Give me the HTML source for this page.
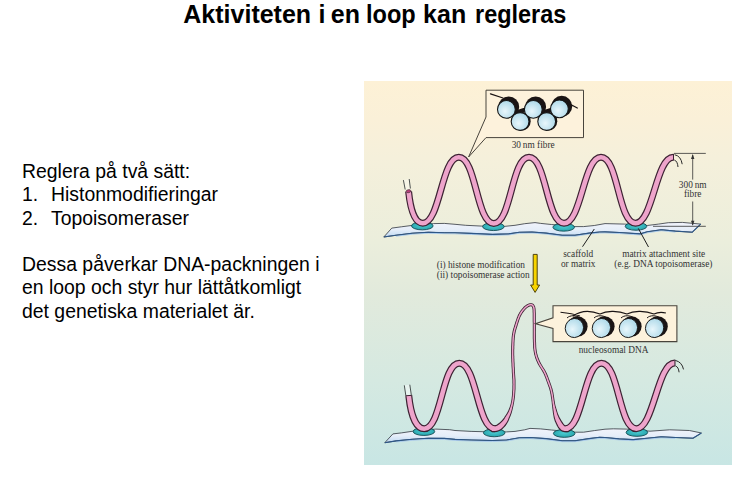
<!DOCTYPE html>
<html><head><meta charset="utf-8">
<style>
html,body{margin:0;padding:0;background:#fff;}
body{width:746px;height:482px;position:relative;overflow:hidden;font-family:"Liberation Sans",sans-serif;color:#000;}
#title{position:absolute;left:0;top:-1px;width:746px;height:32px;font-weight:bold;font-size:25px;line-height:30px;white-space:nowrap;}
#title span{position:absolute;top:0;transform-origin:0 0;}
#txt{position:absolute;left:22px;top:160px;font-size:19.4px;line-height:23.25px;white-space:nowrap;}
#txt .n{display:inline-block;width:29px;}
#fig{position:absolute;left:0;top:0;}
</style></head><body>
<div id="title"><span style="left:183.3px">Aktiviteten</span><span style="left:318.5px">i</span><span style="left:330.8px">en</span><span style="left:366.3px;transform:scaleX(0.942)">loop</span><span style="left:423.1px">kan</span><span style="left:474.6px;transform:scaleX(0.938)">regleras</span></div>
<div id="txt">
<div>Reglera på två sätt:</div>
<div><span class="n">1.</span>Histonmodifieringar</div>
<div><span class="n">2.</span>Topoisomeraser</div>
<div>&nbsp;</div>
<div>Dessa påverkar DNA-packningen i</div>
<div>en loop och styr hur lättåtkomligt</div>
<div>det genetiska materialet är.</div>
</div>
<svg id="fig" width="746" height="482" viewBox="0 0 746 482">
<defs>
<linearGradient id="bg" x1="0" y1="81" x2="0" y2="465" gradientUnits="userSpaceOnUse">
<stop offset="0" stop-color="rgb(253,241,214)"/>
<stop offset="0.1" stop-color="rgb(250,240,216)"/>
<stop offset="0.2" stop-color="rgb(245,240,219)"/>
<stop offset="0.42" stop-color="rgb(235,238,220)"/>
<stop offset="0.55" stop-color="rgb(226,234,220)"/>
<stop offset="0.78" stop-color="rgb(213,233,225)"/>
<stop offset="1" stop-color="rgb(200,230,228)"/>
</linearGradient>
<linearGradient id="scf" x1="0" y1="0" x2="0" y2="1">
<stop offset="0" stop-color="#f1f3fb"/>
<stop offset="0.5" stop-color="#e6eef9"/>
<stop offset="0.8" stop-color="#cfe2f6"/>
<stop offset="1" stop-color="#b8d4ef"/>
</linearGradient>
<radialGradient id="nuc" cx="0.42" cy="0.6" r="0.62">
<stop offset="0" stop-color="#e8f6fb"/>
<stop offset="1" stop-color="#acd8e8"/>
</radialGradient>
<radialGradient id="tl" cx="0.5" cy="0.45" r="0.55">
<stop offset="0" stop-color="#4ccdd3"/>
<stop offset="1" stop-color="#27a4ac"/>
</radialGradient>
</defs>
<rect x="364" y="81" width="368" height="384" fill="url(#bg)"/>

<path d="M383.8 237.0 L391.8 228.1 L401.4 226.8 L412.2 225.4 L433.6 223.6 L444.3 223.4 L455.0 224.3 L465.7 225.3 L481.8 226.1 L504.3 226.4 L515.0 225.3 L524.7 223.7 L535.0 222.6 L540.7 223.4 L551.4 224.5 L575.0 226.6 L583.6 226.6 L594.3 225.5 L605.0 223.6 L624.7 224.1 L647.2 225.5 L658.5 224.1 L668.3 222.7 L682.4 222.4 L700.7 224.1 L692.3 232.2 L675.4 231.1 L661.3 229.7 L647.2 231.8 L640.2 233.9 L619.1 232.5 L605.0 231.9 L599.7 232.0 L589.0 233.1 L575.0 235.2 L562.2 235.2 L546.1 233.1 L532.0 232.0 L519.3 232.3 L508.6 233.9 L492.5 234.4 L471.1 233.4 L455.0 232.8 L444.3 232.7 L428.3 232.2 L412.2 233.2 L396.1 235.2 Z" fill="url(#scf)" stroke="#30353d" stroke-width="0.8" stroke-linejoin="round"/><path d="M675.4 232.1 L661.3 230.7 L647.2 232.8 L640.2 234.9 L619.1 233.5 L605.0 232.9 L599.7 233.0 L589.0 234.1 L575.0 236.2 L562.2 236.2 L546.1 234.1 L532.0 233.0 L519.3 233.3 L508.6 234.9 L492.5 235.4 L471.1 234.4 L455.0 233.8 L444.3 233.7 L428.3 233.2 L412.2 234.2 L396.1 236.2" fill="none" stroke="#a9c9ea" stroke-width="1"/><path d="M700.7 224.1 L692.3 232.2 L675.4 231.1 L661.3 229.7 L647.2 231.8 L640.2 233.9 L619.1 232.5 L605.0 231.9 L599.7 232.0 L589.0 233.1 L575.0 235.2 L562.2 235.2 L546.1 233.1 L532.0 232.0 L519.3 232.3 L508.6 233.9 L492.5 234.4 L471.1 233.4 L455.0 232.8 L444.3 232.7 L428.3 232.2 L412.2 233.2 L396.1 235.2 L383.8 237.0" fill="none" stroke="#2d5788" stroke-width="1.1" stroke-linejoin="round"/>
<g fill="url(#tl)" stroke="#124c52" stroke-width="0.9"><ellipse cx="422.3" cy="225.9" rx="10.8" ry="3.95"/><ellipse cx="493.4" cy="226.6" rx="10.8" ry="3.95"/><ellipse cx="563.7" cy="227.2" rx="10.8" ry="3.95"/><ellipse cx="636.0" cy="226.3" rx="10.8" ry="3.95"/></g>
<path d="M408.6 191.5 C410.2 207 414 223.2 422.8 223.2 C440.3 223.2 441.3 157.3 458.8 157.3 C476.3 157.3 476.3 223.5 493.8 223.5 C511.3 223.5 511.5 157.3 529.0 157.3 C546.5 157.3 546.5 223.2 564.0 223.2 C581.5 223.2 583.5 157.3 601.0 157.3 C618.5 157.3 618.0 223.2 635.5 223.2 C653.0 223.2 655.8 157.2 673.3 157.2" fill="none" stroke="#3d2233" stroke-width="7.0" /><path d="M408.6 191.5 C410.2 207 414 223.2 422.8 223.2 C440.3 223.2 441.3 157.3 458.8 157.3 C476.3 157.3 476.3 223.5 493.8 223.5 C511.3 223.5 511.5 157.3 529.0 157.3 C546.5 157.3 546.5 223.2 564.0 223.2 C581.5 223.2 583.5 157.3 601.0 157.3 C618.5 157.3 618.0 223.2 635.5 223.2 C653.0 223.2 655.8 157.2 673.3 157.2" fill="none" stroke="#eea4cb" stroke-width="4.6" />
<path d="M405.2 189.5 L403.4 180.1 L409.2 179 L410.4 188.5 Z" fill="#fbfaf0" opacity="0.55"/><path d="M405.2 189.5 L403.4 180.1 M410.4 188.5 L409.2 179" stroke="#3a4040" stroke-width="0.9" fill="none"/>
<ellipse cx="408.5" cy="191.2" rx="2.4" ry="1.5" fill="#b8407a" stroke="#3d2233" stroke-width="0.6" transform="rotate(-10 408.5 191.2)"/>
<path d="M673.5 153.9 L673.5 160.6" stroke="#3d2233" stroke-width="1"/><path d="M674.6 154.7 Q681 156 682.2 164.2 M674.3 160 Q677.5 161 678 167" stroke="#2a2a2a" stroke-width="1" fill="none"/>

<g stroke="#333" stroke-width="0.8" fill="none">
<path d="M674 153.4 L705.8 153.4 M653 226.3 L705.8 226.3"/>
<path d="M692.7 155 L692.7 179.6 M692.7 201.5 L692.7 225"/>
</g>
<path d="M692.7 154 L691 159 L694.4 159 Z M692.7 225.8 L691 220.8 L694.4 220.8 Z" fill="#333"/>
<g font-family="Liberation Serif" font-size="9.35" fill="#333" text-anchor="middle">
<text x="692.7" y="187.6">300&#8201;nm</text>
<text x="692.7" y="197.3">fibre</text>
</g>

<path d="M486 90.2 L583.5 90.2 L583.5 137.6 L486 137.6 L468.6 157 L486 117 Z" fill="#fdf2dc" stroke="#48443c" stroke-width="1" stroke-linejoin="miter"/>
<g fill="#1a1414">
<circle cx="508.7" cy="106.9" r="10.5"/><circle cx="535.6" cy="106.9" r="10.5"/><circle cx="561.7" cy="106.3" r="10.5"/>
<circle cx="521.2" cy="121.2" r="9.5"/><circle cx="547.8" cy="121.2" r="9.5"/>
</g>
<g fill="none" stroke="#1a1414" stroke-linecap="round">
<path d="M490.5 93.8 L503 98" stroke-width="1.3"/>
<path d="M566 102 L577.3 108" stroke-width="1.3"/>
<path d="M512 114 L524 110 M538.5 114 L551 110" stroke-width="4"/>
</g>
<g stroke="#151515" stroke-width="1.1" fill="url(#nuc)">
<circle cx="520.1" cy="121.5" r="8.9"/>
<circle cx="546.7" cy="121.5" r="8.9"/>
<circle cx="506.4" cy="109.4" r="8.9"/>
<circle cx="533.3" cy="109.4" r="8.9"/>
<circle cx="559.4" cy="108.8" r="8.9"/>
</g>
<text x="533.2" y="147.8" font-family="Liberation Serif" font-size="9.35" fill="#333" text-anchor="middle">30&#8201;nm fibre</text>

<g stroke="#1e1e1e" stroke-width="1" fill="none">
<path d="M582.5 246.7 L594.3 229"/>
<path d="M648.5 247 L638.3 228.4"/>
</g>
<g font-family="Liberation Serif" font-size="9.35" fill="#333" text-anchor="middle">
<text x="578.2" y="257.1">scaffold</text>
<text x="578.2" y="266.7">or matrix</text>
<text x="663.7" y="257.1">matrix attachment site</text>
<text x="663.4" y="266.7">(e.g. DNA topoisomerase)</text>
</g>
<g font-family="Liberation Serif" font-size="9.35" fill="#333">
<text x="436.8" y="268.2">(i) histone modification</text>
<text x="436.8" y="277.8">(ii) topoisomerase action</text>
</g>
<path d="M533.2 254.4 L537.2 254.4 L537.2 285 L539.6 285 L535.1 292.4 L530.6 285 L533.2 285 Z" fill="#f7d400" stroke="#3e3300" stroke-width="0.9" stroke-linejoin="round"/>

<path d="M384.8 442.7 L392.9 433.9 L401.4 432.9 L412.2 431.3 L435.8 429.1 L449.7 429.7 L455.0 430.5 L471.1 431.4 L482.9 431.7 L506.5 431.9 L515.0 431.4 L524.7 429.8 L530.0 428.4 L540.7 428.9 L551.4 430.0 L575.0 432.2 L583.6 432.2 L594.3 430.6 L605.0 429.2 L613.4 428.8 L626.1 429.1 L650.0 431.2 L669.7 429.8 L689.4 430.5 L701.4 433.0 L693.0 438.2 L675.4 437.5 L661.3 436.8 L647.2 438.2 L633.1 439.6 L619.1 438.9 L605.0 437.5 L599.7 437.3 L589.0 438.6 L575.0 440.7 L562.2 440.7 L546.1 438.6 L530.0 437.5 L519.3 437.8 L506.5 440.0 L492.5 440.5 L471.1 440.0 L455.0 439.4 L444.3 438.4 L428.3 438.2 L412.2 439.3 L396.1 440.9 Z" fill="url(#scf)" stroke="#30353d" stroke-width="0.8" stroke-linejoin="round"/><path d="M675.4 438.5 L661.3 437.8 L647.2 439.2 L633.1 440.6 L619.1 439.9 L605.0 438.5 L599.7 438.3 L589.0 439.6 L575.0 441.7 L562.2 441.7 L546.1 439.6 L530.0 438.5 L519.3 438.8 L506.5 441.0 L492.5 441.5 L471.1 441.0 L455.0 440.4 L444.3 439.4 L428.3 439.2 L412.2 440.3 L396.1 441.9" fill="none" stroke="#a9c9ea" stroke-width="1"/><path d="M701.4 433.0 L693.0 438.2 L675.4 437.5 L661.3 436.8 L647.2 438.2 L633.1 439.6 L619.1 438.9 L605.0 437.5 L599.7 437.3 L589.0 438.6 L575.0 440.7 L562.2 440.7 L546.1 438.6 L530.0 437.5 L519.3 437.8 L506.5 440.0 L492.5 440.5 L471.1 440.0 L455.0 439.4 L444.3 438.4 L428.3 438.2 L412.2 439.3 L396.1 440.9 L384.8 442.7" fill="none" stroke="#2d5788" stroke-width="1.1" stroke-linejoin="round"/>
<g fill="url(#tl)" stroke="#124c52" stroke-width="0.9"><ellipse cx="423.9" cy="431.5" rx="10.8" ry="3.95"/><ellipse cx="494.2" cy="432.8" rx="10.8" ry="3.95"/><ellipse cx="564.2" cy="433.4" rx="10.8" ry="3.95"/><ellipse cx="636.9" cy="432.4" rx="10.8" ry="3.95"/></g>
<path d="M408.8 395.8 C410.5 412 415 428.7 424.2 428.7 C441.7 428.7 441.8 363.2 459.3 363.2 C476.8 363.2 477.3 428.7 494.8 428.7 " fill="none" stroke="#3d2233" stroke-width="7.0"/>
<path d="M565.5 428.7 C583.0 428.7 583.9 363.2 601.4 363.2 C618.9 363.2 618.8 428.7 636.3 428.7 C653.8 428.7 657.3 363 674.8 363" fill="none" stroke="#3d2233" stroke-width="7.0"/>
<path d="M491.8 432.2 L494.9 432.2 L496.9 432.0 L498.8 431.3 L500.6 430.5 L502.1 429.4 L503.5 428.1 L504.8 426.8 L505.9 425.4 L506.8 424.0 L507.7 422.6 L508.4 421.3 L508.7 420.5 L509.0 419.9 L509.3 419.0 L509.7 418.1 L510.1 417.1 L510.6 416.0 L511.0 414.8 L511.4 413.7 L511.8 412.5 L512.1 411.3 L512.4 410.2 L512.7 409.1 L512.9 407.9 L513.2 406.8 L513.5 405.6 L513.7 404.3 L514.0 403.1 L514.2 401.8 L514.4 400.5 L514.6 399.2 L514.8 397.8 L515.0 396.4 L515.1 395.0 L515.2 393.5 L515.3 392.0 L515.4 390.5 L515.5 389.0 L515.5 387.5 L515.5 386.0 L515.5 384.5 L515.5 383.0 L515.5 381.6 L515.5 380.1 L515.4 378.6 L515.3 377.2 L515.2 375.7 L515.1 374.3 L515.0 372.8 L514.9 371.4 L514.8 369.9 L514.8 368.4 L514.7 366.9 L514.6 365.4 L514.6 363.8 L514.5 362.3 L514.4 360.7 L514.4 359.2 L514.3 357.8 L514.3 356.3 L514.2 355.0 L514.2 353.7 L514.2 352.4 L514.2 351.1 L514.2 349.9 L514.3 348.7 L514.3 347.5 L514.3 346.3 L514.4 345.2 L514.4 344.1 L514.4 343.1 L514.5 342.1 L514.5 341.1 L514.6 340.1 L514.7 339.2 L514.7 338.4 L514.8 337.5 L514.9 336.7 L515.0 335.9 L515.1 335.1 L515.2 334.3 L515.4 333.5 L515.5 332.7 L515.7 332.0 L515.8 331.3 L516.0 330.6 L516.2 329.9 L516.4 329.2 L516.6 328.4 L516.9 327.6 L517.2 326.7 L517.5 325.7 L517.8 324.6 L518.2 323.4 L518.6 322.2 L519.0 321.0 L519.4 319.8 L519.8 318.7 L520.2 317.6 L520.7 316.6 L521.1 315.7 L521.5 314.9 L522.0 314.1 L522.4 313.4 L522.9 312.7 L523.4 312.0 L523.9 311.4 L524.4 310.8 L524.8 310.3 L525.3 309.7 L525.7 309.3 L526.1 308.8 L526.5 308.5 L526.9 308.2 L527.2 307.9 L527.6 307.6 L527.9 307.4 L528.3 307.2 L528.6 307.0 L529.0 306.9 L529.3 306.7 L529.5 306.6 L529.8 306.5 L530.0 306.4 L530.2 306.4 L530.4 306.3 L530.6 306.3 L530.8 306.3 L530.9 306.3 L531.1 306.3 L531.2 306.3 L531.3 306.3 L531.4 306.4 L531.4 306.4 L531.5 306.4 L531.5 306.4 L531.5 306.5 L531.6 306.5 L531.7 306.6 L531.7 306.7 L531.8 306.9 L532.0 307.2 L532.1 307.4 L532.1 307.5 L532.2 307.7 L532.3 307.8 L532.3 308.0 L532.4 308.4 L532.4 308.8 L532.5 309.4 L532.6 310.1 L532.6 311.0 L532.6 312.0 L532.7 313.1 L532.7 314.3 L532.7 315.6 L532.7 317.0 L532.7 318.4 L532.7 319.9 L532.7 321.4 L532.8 322.9 L532.8 324.5 L532.8 326.1 L532.8 327.9 L532.8 329.7 L532.8 331.5 L532.8 333.3 L532.8 335.1 L532.8 336.8 L532.8 338.5 L532.9 340.1 L532.9 341.5 L533.0 342.9 L533.0 344.2 L533.1 345.5 L533.1 346.8 L533.2 348.0 L533.4 349.2 L533.5 350.4 L533.7 351.6 L533.9 352.8 L534.1 353.9 L534.4 355.0 L534.7 356.1 L535.0 357.2 L535.3 358.2 L535.7 359.2 L536.1 360.2 L536.5 361.2 L536.9 362.1 L537.4 363.2 L537.9 364.2 L538.5 365.3 L539.1 366.3 L539.7 367.3 L540.4 368.3 L541.0 369.3 L541.6 370.3 L542.2 371.3 L542.7 372.2 L543.2 373.1 L543.7 374.0 L544.1 374.9 L544.5 375.8 L544.8 376.7 L545.2 377.5 L545.5 378.4 L545.8 379.3 L546.2 380.2 L546.5 381.2 L546.8 382.1 L547.2 383.1 L547.5 384.0 L547.9 385.0 L548.2 385.9 L548.6 386.9 L548.9 387.8 L549.2 388.8 L549.5 389.9 L549.8 391.0 L550.1 392.1 L550.3 393.4 L550.6 394.7 L550.8 396.2 L551.0 397.7 L551.3 399.2 L551.5 400.7 L551.7 402.3 L551.8 403.8 L552.0 405.2 L552.2 406.6 L552.3 407.9 L552.5 409.2 L552.6 410.5 L552.8 411.7 L552.9 412.9 L553.1 414.1 L553.3 415.2 L553.5 416.3 L553.7 417.4 L553.9 418.5 L554.3 419.6 L554.6 420.7 L555.0 421.8 L555.5 422.8 L555.9 423.7 L556.3 424.6 L556.7 425.4 L557.0 426.1 L557.3 426.6 L557.7 427.3 L558.3 428.2 L558.8 428.8 L559.3 429.4 L559.9 430.1 L560.6 430.7 L561.4 431.2 L562.4 431.7 L563.4 432.0 L564.5 432.2 L565.5 432.2 L568.5 432.2 L568.5 425.2 L565.5 425.2 L565.1 425.2 L565.0 425.2 L564.9 425.1 L564.9 425.1 L564.8 425.1 L564.7 425.0 L564.5 424.7 L564.1 424.4 L563.7 423.9 L563.3 423.5 L563.3 423.3 L562.9 422.7 L562.5 422.1 L562.0 421.4 L561.6 420.7 L561.1 419.9 L560.6 419.1 L560.1 418.3 L559.7 417.5 L559.3 416.7 L558.9 415.8 L558.5 414.9 L558.1 413.9 L557.7 412.9 L557.4 411.9 L557.0 410.8 L556.7 409.6 L556.3 408.4 L556.0 407.2 L555.6 406.0 L555.3 404.7 L555.0 403.3 L554.8 401.8 L554.5 400.3 L554.3 398.8 L554.1 397.2 L553.9 395.7 L553.6 394.2 L553.4 392.8 L553.1 391.5 L552.8 390.2 L552.5 389.1 L552.2 387.9 L551.8 386.9 L551.5 385.9 L551.2 384.9 L550.8 383.9 L550.5 383.0 L550.1 382.0 L549.8 381.1 L549.4 380.1 L549.1 379.2 L548.7 378.3 L548.4 377.3 L548.1 376.4 L547.7 375.5 L547.3 374.6 L546.9 373.6 L546.5 372.7 L546.0 371.7 L545.5 370.7 L544.9 369.7 L544.3 368.7 L543.6 367.7 L543.0 366.7 L542.4 365.7 L541.8 364.7 L541.2 363.7 L540.7 362.8 L540.2 361.8 L539.8 360.9 L539.4 359.9 L539.0 359.0 L538.6 358.1 L538.3 357.2 L537.9 356.2 L537.7 355.3 L537.4 354.3 L537.1 353.3 L536.9 352.2 L536.7 351.1 L536.6 350.0 L536.4 348.9 L536.3 347.8 L536.2 346.6 L536.2 345.4 L536.1 344.1 L536.1 342.8 L536.0 341.4 L535.9 339.9 L535.9 338.4 L535.9 336.8 L535.9 335.1 L535.8 333.3 L535.8 331.5 L535.9 329.7 L535.9 327.9 L535.9 326.1 L535.9 324.5 L535.8 322.9 L535.8 321.4 L535.8 319.9 L535.8 318.4 L535.8 317.0 L535.8 315.6 L535.8 314.3 L535.8 313.0 L535.7 311.9 L535.7 310.8 L535.6 309.9 L535.6 309.1 L535.5 308.4 L535.4 307.9 L535.3 307.4 L535.2 306.9 L535.1 306.6 L535.0 306.2 L534.8 305.9 L534.7 305.7 L534.6 305.5 L534.4 305.2 L534.2 304.9 L534.0 304.6 L533.7 304.3 L533.5 304.0 L533.1 303.8 L532.8 303.6 L532.5 303.5 L532.1 303.4 L531.8 303.3 L531.5 303.2 L531.1 303.2 L530.7 303.2 L530.4 303.2 L530.0 303.2 L529.6 303.3 L529.2 303.4 L528.8 303.6 L528.3 303.7 L527.9 303.9 L527.5 304.1 L527.2 304.3 L526.7 304.5 L526.3 304.8 L525.9 305.1 L525.4 305.4 L524.9 305.8 L524.4 306.2 L523.9 306.6 L523.5 307.1 L523.0 307.7 L522.5 308.2 L522.0 308.8 L521.5 309.5 L520.9 310.1 L520.4 310.9 L519.8 311.7 L519.3 312.5 L518.8 313.4 L518.3 314.3 L517.8 315.3 L517.4 316.4 L516.9 317.6 L516.5 318.8 L516.1 320.0 L515.6 321.3 L515.2 322.5 L514.9 323.6 L514.5 324.7 L514.2 325.7 L513.9 326.7 L513.7 327.5 L513.4 328.3 L513.2 329.1 L513.0 329.8 L512.8 330.6 L512.6 331.3 L512.5 332.1 L512.3 332.9 L512.2 333.7 L512.0 334.6 L511.9 335.5 L511.8 336.3 L511.7 337.2 L511.6 338.1 L511.6 339.0 L511.5 339.9 L511.5 340.9 L511.4 341.9 L511.4 342.9 L511.3 344.0 L511.3 345.1 L511.2 346.2 L511.2 347.4 L511.2 348.6 L511.1 349.8 L511.1 351.1 L511.1 352.4 L511.1 353.7 L511.2 355.0 L511.2 356.4 L511.2 357.9 L511.3 359.4 L511.3 360.9 L511.4 362.4 L511.5 364.0 L511.5 365.5 L511.6 367.1 L511.7 368.6 L511.8 370.1 L511.8 371.6 L511.9 373.0 L512.0 374.5 L512.1 375.9 L512.2 377.4 L512.3 378.8 L512.4 380.2 L512.4 381.7 L512.4 383.1 L512.5 384.5 L512.4 385.9 L512.4 387.4 L512.4 388.9 L512.3 390.4 L512.2 391.8 L512.1 393.3 L512.0 394.7 L511.9 396.1 L511.7 397.5 L511.6 398.8 L511.4 400.0 L511.2 401.3 L510.9 402.5 L510.7 403.7 L510.4 404.8 L510.0 405.9 L509.7 407.0 L509.3 408.1 L508.9 409.1 L508.5 410.1 L508.1 411.0 L507.5 412.0 L507.0 413.0 L506.4 414.0 L505.8 414.9 L505.2 415.8 L504.7 416.6 L504.2 417.4 L503.8 418.0 L503.6 418.3 L502.8 419.2 L502.0 420.2 L501.0 421.2 L500.0 422.2 L499.0 423.1 L497.9 423.8 L497.0 424.5 L496.1 424.9 L495.4 425.1 L494.7 425.2 L491.8 425.2 Z" fill="#3d2233"/>
<path d="M408.8 395.8 C410.5 412 415 428.7 424.2 428.7 C441.7 428.7 441.8 363.2 459.3 363.2 C476.8 363.2 477.3 428.7 494.8 428.7 " fill="none" stroke="#eea4cb" stroke-width="4.6"/>
<path d="M565.5 428.7 C583.0 428.7 583.9 363.2 601.4 363.2 C618.9 363.2 618.8 428.7 636.3 428.7 C653.8 428.7 657.3 363 674.8 363" fill="none" stroke="#eea4cb" stroke-width="4.6"/>
<path d="M491.8 431.0 L494.9 431.0 L496.6 430.8 L498.4 430.2 L499.9 429.4 L501.4 428.4 L502.7 427.2 L503.9 426.0 L505.0 424.6 L506.0 423.3 L506.8 422.0 L507.5 420.7 L507.8 420.1 L508.1 419.4 L508.4 418.6 L508.8 417.6 L509.3 416.6 L509.7 415.6 L510.1 414.4 L510.6 413.3 L510.9 412.2 L511.3 411.0 L511.6 409.9 L511.9 408.8 L512.1 407.7 L512.4 406.5 L512.7 405.4 L512.9 404.2 L513.2 402.9 L513.4 401.7 L513.6 400.4 L513.8 399.1 L514.0 397.8 L514.2 396.4 L514.3 394.9 L514.4 393.5 L514.5 392.0 L514.6 390.5 L514.7 389.0 L514.7 387.5 L514.7 386.0 L514.7 384.5 L514.7 383.0 L514.7 381.6 L514.7 380.1 L514.6 378.7 L514.5 377.2 L514.4 375.8 L514.3 374.3 L514.2 372.9 L514.1 371.4 L514.0 370.0 L514.0 368.5 L513.9 366.9 L513.8 365.4 L513.8 363.9 L513.7 362.3 L513.6 360.8 L513.6 359.3 L513.5 357.8 L513.5 356.4 L513.4 355.0 L513.4 353.7 L513.4 352.4 L513.4 351.1 L513.4 349.8 L513.5 348.6 L513.5 347.5 L513.5 346.3 L513.6 345.2 L513.6 344.1 L513.6 343.0 L513.7 342.0 L513.8 341.0 L513.8 340.1 L513.9 339.2 L513.9 338.3 L514.0 337.4 L514.1 336.6 L514.2 335.8 L514.3 334.9 L514.4 334.1 L514.6 333.3 L514.7 332.6 L514.9 331.8 L515.0 331.1 L515.2 330.4 L515.4 329.7 L515.6 329.0 L515.9 328.2 L516.1 327.3 L516.4 326.4 L516.7 325.4 L517.1 324.3 L517.4 323.2 L517.8 322.0 L518.2 320.8 L518.6 319.6 L519.1 318.4 L519.5 317.3 L519.9 316.3 L520.4 315.3 L520.8 314.5 L521.3 313.7 L521.8 312.9 L522.2 312.2 L522.7 311.5 L523.2 310.9 L523.7 310.3 L524.2 309.7 L524.7 309.2 L525.1 308.7 L525.6 308.3 L526.0 307.9 L526.4 307.5 L526.8 307.2 L527.1 307.0 L527.5 306.7 L527.9 306.5 L528.2 306.3 L528.6 306.1 L528.9 306.0 L529.2 305.8 L529.5 305.7 L529.8 305.6 L530.1 305.6 L530.3 305.5 L530.5 305.5 L530.8 305.5 L531.0 305.5 L531.2 305.5 L531.4 305.5 L531.5 305.6 L531.7 305.6 L531.8 305.7 L531.9 305.7 L532.0 305.8 L532.1 305.9 L532.2 306.0 L532.3 306.2 L532.4 306.3 L532.5 306.6 L532.7 306.8 L532.8 307.0 L532.9 307.2 L533.0 307.4 L533.0 307.6 L533.1 307.9 L533.2 308.2 L533.2 308.7 L533.3 309.3 L533.4 310.0 L533.4 310.9 L533.4 312.0 L533.5 313.1 L533.5 314.3 L533.5 315.6 L533.5 317.0 L533.5 318.4 L533.5 319.9 L533.5 321.4 L533.6 322.9 L533.6 324.5 L533.6 326.1 L533.6 327.9 L533.6 329.7 L533.6 331.5 L533.6 333.3 L533.6 335.1 L533.6 336.8 L533.6 338.5 L533.7 340.0 L533.7 341.5 L533.8 342.9 L533.8 344.2 L533.9 345.5 L533.9 346.7 L534.0 348.0 L534.1 349.2 L534.3 350.3 L534.5 351.5 L534.7 352.6 L534.9 353.8 L535.2 354.8 L535.4 355.9 L535.8 356.9 L536.1 357.9 L536.5 358.9 L536.8 359.9 L537.2 360.8 L537.7 361.8 L538.1 362.8 L538.6 363.8 L539.2 364.9 L539.8 365.9 L540.4 366.9 L541.0 367.9 L541.7 368.9 L542.3 369.9 L542.9 370.8 L543.4 371.8 L543.9 372.7 L544.4 373.7 L544.8 374.6 L545.2 375.5 L545.6 376.4 L545.9 377.3 L546.2 378.1 L546.6 379.0 L546.9 380.0 L547.2 380.9 L547.6 381.9 L547.9 382.8 L548.3 383.8 L548.6 384.7 L549.0 385.7 L549.3 386.6 L549.7 387.6 L550.0 388.6 L550.3 389.7 L550.6 390.8 L550.9 392.0 L551.1 393.2 L551.4 394.6 L551.6 396.0 L551.8 397.6 L552.0 399.1 L552.3 400.6 L552.4 402.2 L552.6 403.7 L552.8 405.1 L553.0 406.5 L553.2 407.8 L553.3 409.0 L553.5 410.3 L553.7 411.5 L553.8 412.7 L554.0 413.8 L554.2 415.0 L554.4 416.1 L554.7 417.1 L554.9 418.2 L555.3 419.2 L555.6 420.3 L556.0 421.3 L556.5 422.3 L556.9 423.2 L557.3 424.1 L557.7 424.8 L558.0 425.5 L558.3 426.0 L558.6 426.7 L559.2 427.5 L559.7 428.1 L560.2 428.6 L560.7 429.2 L561.3 429.7 L562.0 430.2 L562.8 430.6 L563.7 430.8 L564.6 431.0 L565.5 431.0 L568.5 431.0 L568.5 426.4 L565.5 426.4 L565.0 426.4 L564.7 426.3 L564.5 426.3 L564.3 426.2 L564.1 426.1 L563.9 425.8 L563.6 425.5 L563.2 425.1 L562.8 424.6 L562.4 424.1 L562.2 423.9 L561.9 423.3 L561.5 422.7 L561.0 422.0 L560.6 421.2 L560.1 420.4 L559.6 419.6 L559.1 418.7 L558.7 417.9 L558.3 417.0 L557.9 416.1 L557.5 415.2 L557.1 414.2 L556.8 413.1 L556.5 412.1 L556.1 411.0 L555.8 409.8 L555.5 408.6 L555.1 407.4 L554.8 406.1 L554.5 404.8 L554.2 403.4 L554.0 401.9 L553.7 400.4 L553.5 398.9 L553.3 397.3 L553.1 395.8 L552.9 394.4 L552.6 392.9 L552.3 391.6 L552.0 390.4 L551.7 389.3 L551.4 388.2 L551.1 387.1 L550.7 386.1 L550.4 385.1 L550.1 384.2 L549.7 383.2 L549.4 382.3 L549.0 381.3 L548.7 380.4 L548.3 379.5 L548.0 378.5 L547.7 377.6 L547.3 376.7 L546.9 375.8 L546.6 374.9 L546.2 374.0 L545.7 373.0 L545.3 372.1 L544.8 371.1 L544.2 370.1 L543.6 369.1 L542.9 368.1 L542.3 367.1 L541.7 366.1 L541.1 365.1 L540.5 364.1 L540.0 363.2 L539.5 362.2 L539.0 361.2 L538.6 360.3 L538.2 359.3 L537.9 358.4 L537.5 357.4 L537.2 356.5 L536.9 355.5 L536.6 354.5 L536.4 353.4 L536.1 352.4 L535.9 351.3 L535.8 350.1 L535.6 349.0 L535.5 347.8 L535.4 346.6 L535.4 345.4 L535.3 344.1 L535.3 342.8 L535.2 341.4 L535.1 340.0 L535.1 338.4 L535.1 336.8 L535.1 335.1 L535.0 333.3 L535.0 331.5 L535.1 329.7 L535.1 327.9 L535.1 326.1 L535.1 324.5 L535.0 322.9 L535.0 321.4 L535.0 319.9 L535.0 318.4 L535.0 317.0 L535.0 315.6 L535.0 314.3 L535.0 313.1 L534.9 311.9 L534.9 310.9 L534.8 310.0 L534.8 309.2 L534.7 308.5 L534.6 308.0 L534.6 307.5 L534.5 307.2 L534.4 306.8 L534.2 306.6 L534.1 306.3 L534.0 306.1 L533.9 305.8 L533.7 305.6 L533.5 305.3 L533.4 305.1 L533.2 304.8 L532.9 304.6 L532.7 304.5 L532.5 304.3 L532.2 304.2 L531.9 304.1 L531.6 304.1 L531.4 304.0 L531.1 304.0 L530.7 304.0 L530.4 304.0 L530.1 304.0 L529.7 304.1 L529.4 304.2 L529.0 304.3 L528.6 304.5 L528.3 304.6 L527.9 304.8 L527.5 305.0 L527.1 305.2 L526.7 305.5 L526.3 305.7 L525.9 306.0 L525.4 306.4 L525.0 306.8 L524.5 307.2 L524.1 307.7 L523.6 308.2 L523.1 308.7 L522.6 309.3 L522.1 310.0 L521.6 310.6 L521.0 311.3 L520.5 312.1 L520.0 312.9 L519.5 313.8 L519.0 314.7 L518.6 315.7 L518.1 316.7 L517.7 317.9 L517.2 319.1 L516.8 320.3 L516.4 321.5 L516.0 322.7 L515.6 323.9 L515.3 325.0 L515.0 326.0 L514.7 326.9 L514.4 327.7 L514.2 328.5 L514.0 329.3 L513.8 330.0 L513.6 330.8 L513.4 331.5 L513.3 332.3 L513.1 333.1 L513.0 333.9 L512.8 334.7 L512.7 335.6 L512.6 336.4 L512.5 337.3 L512.4 338.2 L512.4 339.1 L512.3 340.0 L512.3 340.9 L512.2 341.9 L512.2 343.0 L512.1 344.0 L512.1 345.1 L512.0 346.3 L512.0 347.4 L512.0 348.6 L511.9 349.8 L511.9 351.1 L511.9 352.4 L511.9 353.7 L512.0 355.0 L512.0 356.4 L512.0 357.8 L512.1 359.3 L512.1 360.8 L512.2 362.4 L512.3 363.9 L512.3 365.5 L512.4 367.0 L512.5 368.5 L512.6 370.0 L512.6 371.5 L512.7 373.0 L512.8 374.4 L512.9 375.9 L513.0 377.3 L513.1 378.8 L513.2 380.2 L513.2 381.6 L513.2 383.1 L513.3 384.5 L513.2 386.0 L513.2 387.4 L513.2 388.9 L513.1 390.4 L513.0 391.9 L512.9 393.3 L512.8 394.8 L512.7 396.2 L512.5 397.6 L512.4 398.9 L512.2 400.2 L511.9 401.4 L511.7 402.6 L511.5 403.8 L511.2 405.0 L510.8 406.1 L510.5 407.2 L510.1 408.3 L509.7 409.4 L509.3 410.4 L508.9 411.4 L508.4 412.4 L507.8 413.4 L507.3 414.4 L506.7 415.3 L506.1 416.2 L505.6 417.1 L505.1 417.8 L504.7 418.5 L504.5 418.9 L503.7 419.9 L502.8 420.9 L501.9 422.0 L500.8 423.0 L499.7 424.0 L498.7 424.8 L497.6 425.5 L496.6 426.0 L495.7 426.3 L494.7 426.4 L491.8 426.4 Z" fill="#eea4cb"/>
<path d="M405.8 395.4 L404.3 385.3 L409.8 384.7 L411.3 394.9 Z" fill="#f4faf8" opacity="0.6"/><path d="M405.8 395.4 L404.3 385.3 M411.3 394.9 L409.8 384.7" stroke="#3a4040" stroke-width="0.9" fill="none"/><path d="M405.3 395.8 L412.2 395.3" stroke="#3d2233" stroke-width="1"/>
<path d="M675 359.7 L675 366.3" stroke="#3d2233" stroke-width="1"/><path d="M675.3 360.4 Q682 362 683.5 369.4 M675.6 366 Q678.5 367 679.1 372.3" stroke="#2a2a2a" stroke-width="1" fill="none"/>

<path d="M553 305.8 L676.9 305.8 L676.9 341.6 L553 341.6 L553 328.5 L535.5 323.8 L553 317.8 Z" fill="#fdf2dc" stroke="#48443c" stroke-width="1.1"/>
<g fill="#1a1414">
<ellipse cx="577.4" cy="326.5" rx="10.2" ry="10.2"/>
<ellipse cx="604.4" cy="326.5" rx="10.2" ry="10.2"/>
<ellipse cx="631.4" cy="326.5" rx="10.2" ry="10.2"/>
<ellipse cx="657.6" cy="326.5" rx="10.2" ry="10.2"/>
</g>
<path d="M560.5 312.2 C568 313 574 314 580 316 M573 316 C580 311 590 310 600 314 C606 311 617 310 627 314 C633 311 644 310 654 314 C658 312 662 312 665.9 313" fill="none" stroke="#1a1414" stroke-width="1.1"/>
<g stroke="#1a1a1a" stroke-width="0.9" fill="url(#nuc)">
<ellipse cx="574.4" cy="328" rx="9.1" ry="9.6" transform="rotate(20 574.4 328)"/>
<ellipse cx="601.4" cy="328" rx="9.1" ry="9.6" transform="rotate(20 601.4 328)"/>
<ellipse cx="628.4" cy="328" rx="9.1" ry="9.6" transform="rotate(20 628.4 328)"/>
<ellipse cx="654.6" cy="328" rx="9.1" ry="9.6" transform="rotate(20 654.6 328)"/>
</g>
<path d="M567 318 C570 315 576 315 580 318 M594 318 C597 315 603 315 607 318 M621 318 C624 315 630 315 634 318 M647 318 C650 315 656 315 660 318" fill="none" stroke="#1a1414" stroke-width="1"/>
<text x="613.6" y="353.1" font-family="Liberation Serif" font-size="9.35" fill="#333" text-anchor="middle">nucleosomal DNA</text>
</svg>
</body></html>
